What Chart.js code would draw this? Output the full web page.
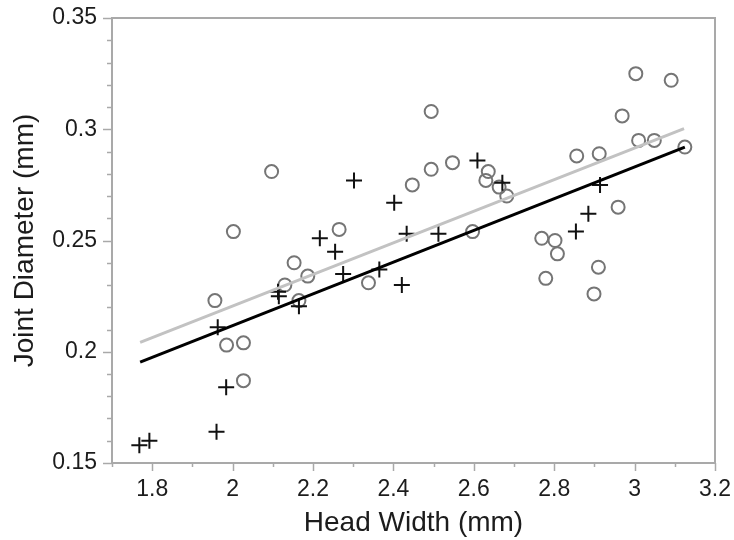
<!DOCTYPE html>
<html>
<head>
<meta charset="utf-8">
<script src="https://cdn.jsdelivr.net/npm/chart.js@4.4.0/dist/chart.umd.min.js"></script>
<style>
  html, body { margin: 0; padding: 0; background: #ffffff; }
  #wrap { width: 734px; height: 540px; position: relative; }
</style>
</head>
<body>
<div id="wrap"><canvas id="c" width="734" height="540"></canvas></div>
<script>
// ---- Data ----
// Open gray circles
const circleX = [1.956, 1.985, 2.002, 2.027, 2.027, 2.097, 2.130, 2.153, 2.165, 2.187,
                 2.265, 2.338, 2.447, 2.494, 2.494, 2.547, 2.597, 2.630, 2.636, 2.663,
                 2.682, 2.769, 2.779, 2.802, 2.808, 2.856, 2.899, 2.910, 2.912, 2.959,
                 2.969, 3.003, 3.010, 3.049, 3.091, 3.125];
const circleY = [0.223, 0.203, 0.254, 0.204, 0.187, 0.281, 0.230, 0.240, 0.223, 0.234,
                 0.255, 0.231, 0.275, 0.308, 0.282, 0.285, 0.254, 0.277, 0.281, 0.274,
                 0.270, 0.251, 0.233, 0.250, 0.244, 0.288, 0.226, 0.238, 0.289, 0.265,
                 0.306, 0.325, 0.295, 0.295, 0.322, 0.292];
// Black crosses
const crossX = [1.768, 1.793, 1.960, 1.963, 1.984, 2.113, 2.115, 2.165, 2.217, 2.255,
                2.275, 2.302, 2.365, 2.402, 2.421, 2.433, 2.512, 2.609, 2.671, 2.854,
                2.885, 2.914];
const crossY = [0.158, 0.160, 0.164, 0.211, 0.184, 0.227, 0.225, 0.2205, 0.251, 0.245,
                0.235, 0.277, 0.237, 0.267, 0.230, 0.253, 0.253, 0.286, 0.276, 0.254,
                0.262, 0.275];
// Regression lines (end points)
const blackLineX = [1.770, 3.125];
const blackLineY = [0.1953, 0.2920];
const grayLineX  = [1.770, 3.123];
const grayLineY  = [0.2042, 0.3003];
// Axes
const xRange = [1.7, 3.2];
const yRange = [0.15, 0.35];
const xMajorLabels = ['1.8', '2', '2.2', '2.4', '2.6', '2.8', '3', '3.2'];
const yMajorLabels = ['0.15', '0.2', '0.25', '0.3', '0.35'];
const xTitle = 'Head Width (mm)';
const yTitle = 'Joint Diameter (mm)';

const pts = (xs, ys) => xs.map((x, i) => ({ x: x, y: ys[i] }));
const fmt = v => String(Number(v.toFixed(3)));

const FONT = '"Liberation Sans", Arial, Helvetica, sans-serif';
const AXIS_COLOR = '#a9a9a9';
const TEXT_COLOR = '#1c1c1c';

const tickPlugin = {
  id: 'tickPlugin',
  afterDraw(chart) {
    const ctx = chart.ctx;
    const ca = chart.chartArea;
    ctx.save();
    ctx.strokeStyle = AXIS_COLOR;
    ctx.lineWidth = 2;
    ctx.strokeRect(ca.left, ca.top, ca.right - ca.left, ca.bottom - ca.top);
    ctx.lineWidth = 1.5;
    const xs = chart.scales.x, ys = chart.scales.y;
    xs.ticks.forEach(t => {
      const major = xMajorLabels.includes(fmt(t.value));
      const px = Math.round(xs.getPixelForValue(t.value)) + 0.5;
      ctx.beginPath();
      ctx.moveTo(px, ca.bottom);
      ctx.lineTo(px, ca.bottom + (major ? 8 : 4));
      ctx.stroke();
    });
    ys.ticks.forEach(t => {
      const major = yMajorLabels.includes(fmt(t.value));
      const py = Math.round(ys.getPixelForValue(t.value)) + 0.5;
      ctx.beginPath();
      ctx.moveTo(ca.left, py);
      ctx.lineTo(ca.left - (major ? 9 : 5), py);
      ctx.stroke();
    });
    ctx.restore();
  }
};

new Chart(document.getElementById('c'), {
  type: 'scatter',
  data: {
    datasets: [
      {
        type: 'line', label: 'black fit', data: pts(blackLineX, blackLineY),
        borderColor: '#000000', borderWidth: 3, pointRadius: 0, fill: false, order: 1
      },
      {
        type: 'line', label: 'gray fit', data: pts(grayLineX, grayLineY),
        borderColor: '#c2c2c2', borderWidth: 3, pointRadius: 0, fill: false, order: 2
      },
      {
        label: 'crosses', data: pts(crossX, crossY),
        pointStyle: 'cross', pointRadius: 8, borderColor: '#111111', borderWidth: 2,
        backgroundColor: '#111111', order: 3
      },
      {
        label: 'circles', data: pts(circleX, circleY),
        pointStyle: 'circle', pointRadius: 6.5, borderColor: '#757575', borderWidth: 2,
        backgroundColor: 'rgba(255,255,255,0)', order: 4
      }
    ]
  },
  options: {
    responsive: false,
    animation: false,
    events: [],
    layout: { padding: { top: 18, right: 19, bottom: 0, left: 0 } },
    plugins: { legend: { display: false }, tooltip: { enabled: false } },
    scales: {
      x: {
        type: 'linear', min: xRange[0], max: xRange[1],
        grid: { display: false, drawTicks: false },
        border: { display: false },
        ticks: {
          stepSize: 0.1, autoSkip: false, maxRotation: 0, padding: 13,
          color: TEXT_COLOR, font: { family: FONT, size: 23 },
          callback: v => xMajorLabels.includes(fmt(v)) ? fmt(v) : ''
        },
        title: {
          display: true, text: xTitle, color: TEXT_COLOR,
          font: { family: FONT, size: 28 }, padding: { top: 0, bottom: 0 }
        },
        afterFit: s => { s.height = 77; s.paddingLeft = 0; s.paddingRight = 0; }
      },
      y: {
        type: 'linear', min: yRange[0], max: yRange[1],
        grid: { display: false, drawTicks: false },
        border: { display: false },
        ticks: {
          stepSize: 0.01, autoSkip: false, padding: 15,
          color: TEXT_COLOR, font: { family: FONT, size: 23 },
          callback: v => yMajorLabels.includes(fmt(v)) ? fmt(v) : ''
        },
        title: {
          display: true, text: yTitle, color: TEXT_COLOR,
          font: { family: FONT, size: 28 }, padding: { top: 8, bottom: 0 }
        },
        afterFit: s => { s.width = 112; s.paddingTop = 0; s.paddingBottom = 0; }
      }
    }
  },
  plugins: [tickPlugin]
});
</script>
</body>
</html>
